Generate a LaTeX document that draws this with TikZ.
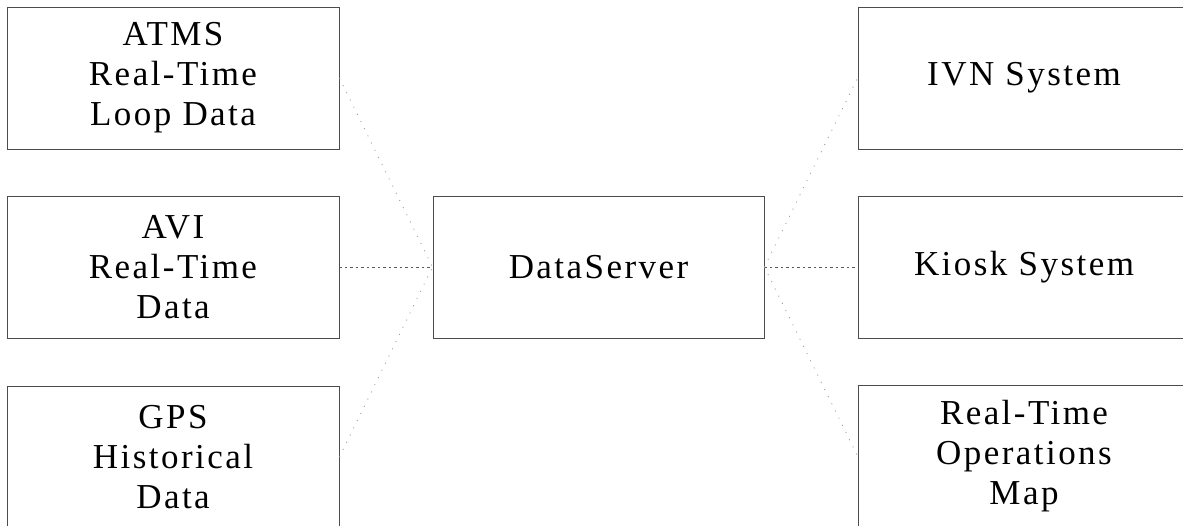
\documentclass[tikz,border=0pt]{standalone}
\usepackage{fontspec}
\newfontfamily\boxfont{Liberation Serif}[LetterSpace=7]
\begin{document}
\begin{tikzpicture}[x=1pt,y=-1pt,
  blk/.style={draw=black!70, line width=0.9pt, minimum width=332pt, minimum height=142pt,
    inner sep=0pt, align=center, font=\boxfont\fontsize{35}{40}\selectfont},
  mainlink/.style={draw=black!65, line width=0.9pt, dash pattern=on 2.5pt off 3pt},
  faintlink/.style={draw=black!40, line width=0.8pt, dash pattern=on 1pt off 7pt}]
\useasboundingbox (0,0) rectangle (1183,525);
\clip (0,0) rectangle (1183,525);
\node[blk] (atms) at (173,78) {ATMS\\Real-Time\\Loop Data};
\node[blk] (avi) at (173,267) {AVI\\Real-Time\\Data};
\node[blk] (gps) at (173,457) {GPS\\Historical\\Data};
\node[blk, minimum width=331pt] (ds) at (598.5,267) {DataServer};
\node[blk] (ivn) at (1024,78) {IVN System};
\node[blk] (kiosk) at (1024,267) {Kiosk System};
\node[blk] (rtom) at (1024,456) {Real-Time\\Operations\\Map};
\draw[faintlink] (atms.east) -- (ds.west);
\draw[mainlink] (avi.east) -- (ds.west);
\draw[faintlink] (gps.east) -- (ds.west);
\draw[faintlink] (ds.east) -- (ivn.west);
\draw[mainlink] (ds.east) -- (kiosk.west);
\draw[faintlink] (ds.east) -- (rtom.west);
\end{tikzpicture}
\end{document}
